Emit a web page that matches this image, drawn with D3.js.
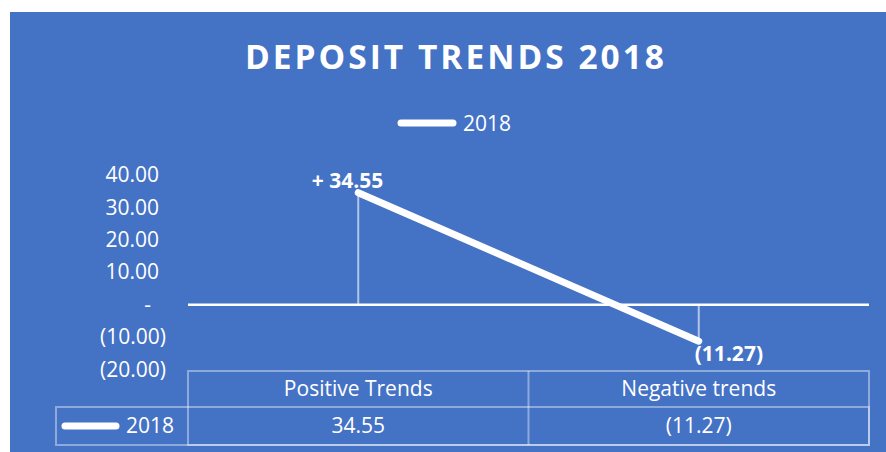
<!DOCTYPE html>
<html lang="en">
<head>
    <meta charset="UTF-8">
    <title>Deposit Trends 2018</title>
    <script src="https://cdn.jsdelivr.net/npm/d3@7"></script>
    <style>
        body { margin: 0; background: #fff; }
        text { font-family: "Open Sans", sans-serif; fill: #fff; }
    </style>
</head>
<body>
<svg id="chart" width="886" height="452"></svg>
<script>
    const categories = ["Positive Trends", "Negative trends"];
    const seriesName = "2018";
    const values2018 = [34.55, -11.27];
    const yTicks = [-20, -10, 0, 10, 20, 30, 40];
    const title = "DEPOSIT TRENDS 2018";

    // accounting style numbers like excel
    const fmt = d3.format(",.2f");
    const acct = v => v === 0 ? "-" : (v < 0 ? "(" + fmt(-v) + ")" : fmt(v));

    const svg = d3.select("#chart");
    const W = 886, H = 452;
    const fs = 21;
    const lineColor = "rgba(255,255,255,0.4)";

    svg.append("rect")
        .attr("x", 10).attr("y", 12)
        .attr("width", W - 10).attr("height", H - 12)
        .attr("fill", "#4472C4");

    svg.append("text")
        .attr("x", 454.5).attr("y", 69)
        .attr("text-anchor", "middle")
        .attr("font-size", 33.5).attr("font-weight", 700)
        .attr("textLength", 419).attr("lengthAdjust", "spacing")
        .text(title);

    // legend
    svg.append("line")
        .attr("x1", 401).attr("x2", 453).attr("y1", 123).attr("y2", 123)
        .attr("stroke", "#fff").attr("stroke-width", 7).attr("stroke-linecap", "round");
    svg.append("text")
        .attr("x", 463).attr("y", 130.5)
        .attr("font-size", fs)
        .text(seriesName);

    const x = d3.scaleBand().domain(categories).range([188, 869]);
    const y = d3.scaleLinear().domain([-20, 40]).range([369.5, 175]);

    // y axis
    const yAxis = svg.append("g")
        .attr("transform", "translate(166,0)")
        .call(d3.axisLeft(y).tickValues(yTicks).tickSize(0).tickPadding(0).tickFormat(acct));
    yAxis.select(".domain").remove();
    yAxis.selectAll("text")
        .attr("fill", "#fff")
        .style("font-family", "'Open Sans', sans-serif")
        .attr("font-size", fs)
        .attr("dx", d => d < 0 ? 0 : (d === 0 ? -15 : -7));

    // zero line
    svg.append("line")
        .attr("x1", x.range()[0]).attr("x2", x.range()[1])
        .attr("y1", y(0)).attr("y2", y(0))
        .attr("stroke", "#fff").attr("stroke-width", 2.5);

    const pts = categories.map((c, i) => ({c: c, v: values2018[i]}));
    const cx = d => x(d.c) + x.bandwidth() / 2;

    // drop lines
    svg.selectAll(".drop").data(pts).enter().append("line")
        .attr("x1", cx).attr("x2", cx)
        .attr("y1", d => y(d.v)).attr("y2", y(0))
        .attr("stroke", "rgba(255,255,255,0.6)").attr("stroke-width", 2);

    svg.append("path")
        .datum(pts)
        .attr("d", d3.line().x(cx).y(d => y(d.v)))
        .attr("fill", "none")
        .attr("stroke", "#fff").attr("stroke-width", 7)
        .attr("stroke-linecap", "round");

    // data labels
    svg.append("text")
        .attr("x", cx(pts[0]) + 25).attr("y", y(pts[0].v) - 5)
        .attr("text-anchor", "end")
        .attr("font-size", fs).attr("font-weight", 700)
        .text("+ " + fmt(pts[0].v));
    svg.append("text")
        .attr("x", cx(pts[1]) - 4).attr("y", y(pts[1].v) + 20)
        .attr("font-size", fs).attr("font-weight", 700)
        .text(acct(pts[1].v));

    // data table
    const rowTop = 371, rowMid = 407, rowBot = 445, keyLeft = 56;
    const t = svg.append("g").attr("fill", "none").attr("stroke", lineColor).attr("stroke-width", 2);
    t.append("rect").attr("x", x.range()[0]).attr("y", rowTop)
        .attr("width", x.range()[1] - x.range()[0]).attr("height", rowBot - rowTop);
    t.append("rect").attr("x", keyLeft).attr("y", rowMid)
        .attr("width", x.range()[1] - keyLeft).attr("height", rowBot - rowMid);
    categories.slice(1).forEach(c => {
        t.append("line").attr("x1", x(c)).attr("x2", x(c)).attr("y1", rowTop).attr("y2", rowBot);
    });

    svg.selectAll(".hdr").data(categories).enter().append("text")
        .attr("x", c => x(c) + x.bandwidth() / 2).attr("y", (rowTop + rowMid) / 2)
        .attr("dy", "0.35em")
        .attr("text-anchor", "middle").attr("font-size", fs)
        .text(c => c);
    svg.selectAll(".val").data(pts).enter().append("text")
        .attr("x", cx).attr("y", (rowMid + rowBot) / 2)
        .attr("dy", "0.35em")
        .attr("text-anchor", "middle").attr("font-size", fs)
        .text(d => acct(d.v));

    svg.append("line")
        .attr("x1", 65).attr("x2", 116).attr("y1", 426).attr("y2", 426)
        .attr("stroke", "#fff").attr("stroke-width", 7).attr("stroke-linecap", "round");
    svg.append("text")
        .attr("x", 126).attr("y", 426).attr("dy", "0.35em")
        .attr("font-size", fs)
        .text(seriesName);
</script>
</body>
</html>
